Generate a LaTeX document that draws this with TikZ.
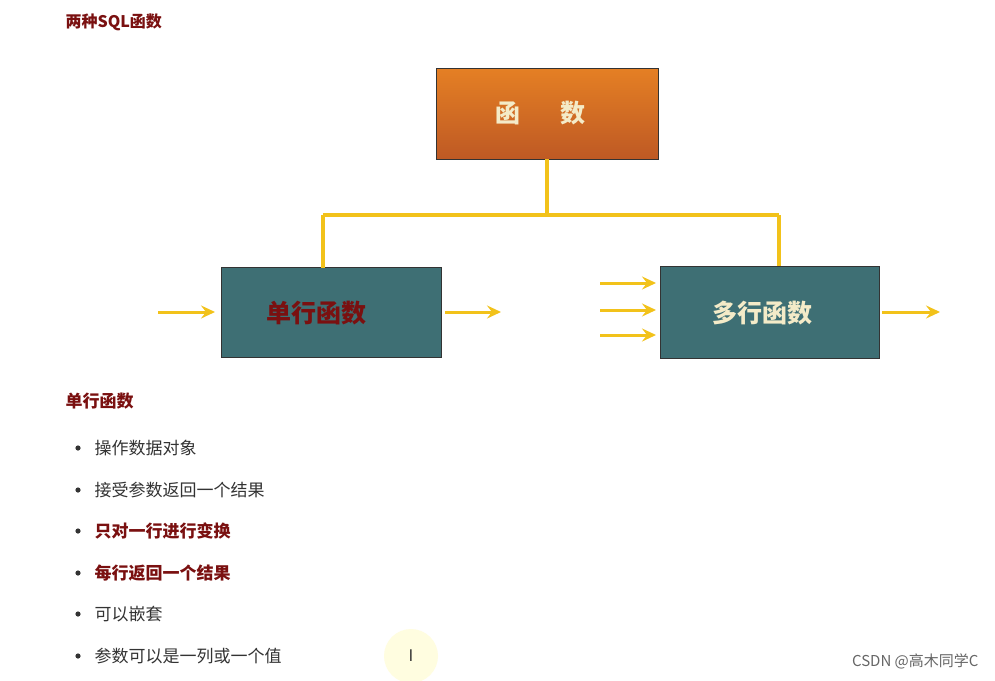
\documentclass[tikz,border=0pt]{standalone}
\usepackage{fontspec}
\setmainfont{Noto Sans CJK SC}
\usetikzlibrary{arrows.meta}
\definecolor{dred}{HTML}{7A1010}
\definecolor{ylw}{HTML}{F2C21A}
\definecolor{teal1}{HTML}{3E6F74}
\definecolor{org}{HTML}{E0692A}
\definecolor{cream}{HTML}{F4EBC8}
\definecolor{txt}{HTML}{333333}
\tikzset{
 box/.style={draw=black!80,line width=0.8pt,minimum width=220pt,minimum height=90pt,inner sep=0},
 link/.style={draw=ylw,line width=3.5pt},
 arr/.style={draw=ylw,line width=3pt,-{Stealth[length=14pt,width=13pt,inset=5pt]}},
 bul/.style={anchor=west,font=\fontsize{17}{19}\selectfont,text=txt},
 bbul/.style={bul,text=dred,font=\fontsize{17}{19}\selectfont\bfseries}
}
\begin{document}
\begin{tikzpicture}[x=1pt,y=-1pt]
\useasboundingbox[fill=white] (0,0) rectangle (995,680);
\node[anchor=west,text=dred,font=\fontsize{16}{18}\selectfont\bfseries] (t) at (62,22) {两种SQL函数};
\node[box,top color=org!85!yellow,bottom color=org!85!black,minimum width=222pt,minimum height=91pt] (f) at (547,113.5) {};
\node[text=cream,font=\fontsize{25}{27}\selectfont\bfseries] (ft) at (540,113) {函\hspace{1.6em}数};
\node[box,fill=teal1] (s) at (331,312.5) {};
\node[text=dred,font=\fontsize{25}{27}\selectfont\bfseries] (st) at (316,313) {单行函数};
\node[box,fill=teal1,minimum width=219pt,minimum height=92pt] (m) at (769.5,312) {};
\node[text=cream,font=\fontsize{25}{27}\selectfont\bfseries] (mt) at (762,313) {多行函数};
\coordinate (j) at (547,215);
\draw[link] (f.south) -- (j);
\draw[link] (323,215) -- (779,215);
\draw[link] (323,215) -- (323,268);
\draw[link] (779,215) -- (779,266);
\coordinate (a1) at (158,312); \coordinate (a2) at (445,312);
\coordinate (b1) at (600,283); \coordinate (b2) at (600,310); \coordinate (b3) at (600,335);
\coordinate (c1) at (882,312);
\draw[arr] (a1) -- (215,312);
\draw[arr] (a2) -- (501,312);
\draw[arr] (b1) -- (656,283);
\draw[arr] (b2) -- (656,310);
\draw[arr] (b3) -- (656,335);
\draw[arr] (c1) -- (940,312);
\node[anchor=west,text=dred,font=\fontsize{17}{19}\selectfont\bfseries] (h) at (62,401) {单行函数};
\foreach \y in {448,490,531,573,614,656} \fill[txt] (78,\y) circle (2.6);
\node[bul] (i1) at (91,448) {操作数据对象};
\node[bul] (i2) at (91,490) {接受参数返回一个结果};
\node[bbul] (i3) at (91,531) {只对一行进行变换};
\node[bbul] (i4) at (91,573) {每行返回一个结果};
\node[bul] (i5) at (91,614) {可以嵌套};
\node[bul] (i6) at (91,656) {参数可以是一列或一个值};
\fill[yellow!12] (411,656) circle (27);
\node[font=\fontsize{16}{18}\selectfont,text=txt] (cur) at (411,656) {I};
\node[anchor=east,text=black!60,font=\fontsize{15}{17}\selectfont] (w) at (982,661) {CSDN @高木同学C};
\end{tikzpicture}
\end{document}
